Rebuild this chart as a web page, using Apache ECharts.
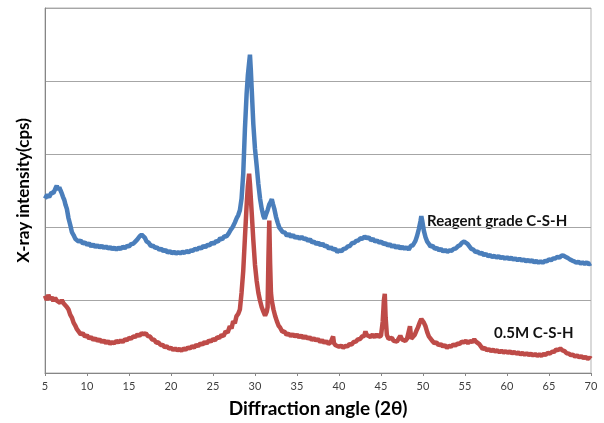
<!DOCTYPE html>
<html>
<head>
<meta charset="utf-8">
<script src="https://cdn.jsdelivr.net/npm/echarts@6/dist/echarts.min.js"></script>
<style>
  html, body { margin: 0; padding: 0; background: #fff; }
  #chart { width: 604px; height: 423px; }
</style>
</head>
<body>
<div id="chart"></div>
<script>
// 2θ tick labels on the x axis
const angleTicks = [5, 10, 15, 20, 25, 30, 35, 40, 45, 50, 55, 60, 65, 70];

// Reagent grade C-S-H (blue trace)
const blueAngle = [
  5.0, 5.25, 5.5, 5.75, 6.0, 6.25, 6.4, 6.55, 6.7, 6.85, 7.0, 7.15, 7.3, 7.45, 7.6, 7.8, 8.0, 8.2, 8.4, 8.6, 8.8,
  9.0, 9.25, 9.5, 9.75, 10.0, 10.25, 10.5, 10.75, 11.0, 11.25, 11.5, 11.75, 12.0, 12.25, 12.5, 12.75, 13.0, 13.25,
  13.5, 13.75, 14.0, 14.25, 14.5, 14.75, 15.0, 15.25, 15.5, 15.75, 16.0, 16.25, 16.5, 16.7, 16.9, 17.1, 17.35, 17.6,
  17.85, 18.1, 18.35, 18.6, 18.85, 19.1, 19.35, 19.6, 19.85, 20.1, 20.35, 20.6, 20.85, 21.1, 21.35, 21.6, 21.85,
  22.1, 22.35, 22.6, 22.85, 23.1, 23.35, 23.6, 23.85, 24.1, 24.35, 24.6, 24.85, 25.1, 25.35, 25.6, 25.85, 26.1,
  26.35, 26.6, 26.85, 27.1, 27.35, 27.6, 27.85, 28.0, 28.2, 28.4, 28.6, 28.8, 29.0, 29.15, 29.3, 29.4, 29.5, 29.6,
  29.8, 30.0, 30.2, 30.4, 30.6, 30.8, 31.0, 31.15, 31.3, 31.5, 31.7, 31.85, 32.0, 32.15, 32.3, 32.5, 32.7, 32.9,
  33.1, 33.3, 33.55, 33.8, 34.05, 34.3, 34.55, 34.8, 35.05, 35.3, 35.55, 35.8, 36.05, 36.3, 36.55, 36.8, 37.05,
  37.3, 37.55, 37.8, 38.05, 38.3, 38.55, 38.8, 39.05, 39.3, 39.55, 39.8, 40.05, 40.3, 40.55, 40.8, 41.05, 41.3,
  41.55, 41.8, 42.05, 42.3, 42.55, 42.8, 43.05, 43.3, 43.55, 43.8, 44.05, 44.3, 44.55, 44.8, 45.05, 45.3, 45.55,
  45.8, 46.05, 46.3, 46.55, 46.8, 47.05, 47.3, 47.55, 47.8, 48.05, 48.3, 48.55, 48.8, 49.1, 49.3, 49.5, 49.7,
  49.8, 49.9, 50.1, 50.3, 50.5, 50.7, 50.9, 51.15, 51.4, 51.65, 51.9, 52.15, 52.4, 52.65, 52.9, 53.15, 53.4,
  53.65, 53.9, 54.15, 54.4, 54.65, 54.9, 55.1, 55.3, 55.5, 55.75, 56.0, 56.25, 56.5, 56.75, 57.0, 57.25, 57.5,
  57.75, 58.0, 58.25, 58.5, 58.75, 59.0, 59.25, 59.5, 59.75, 60.0, 60.25, 60.5, 60.75, 61.0, 61.25, 61.5, 61.75,
  62.0, 62.25, 62.5, 62.75, 63.0, 63.25, 63.5, 63.75, 64.0, 64.25, 64.5, 64.75, 65.0, 65.25, 65.5, 65.75, 66.0,
  66.25, 66.5, 66.75, 67.0, 67.25, 67.5, 67.75, 68.0, 68.25, 68.5, 68.75, 69.0, 69.25, 69.5, 69.75, 70.0
];
const blueCps = [
  2390, 2440, 2410, 2470, 2465, 2530, 2565, 2510, 2545, 2500, 2460, 2410, 2370, 2300, 2250, 2120, 2030, 1930, 1890, 1840, 1845,
  1800, 1815, 1775, 1790, 1755, 1775, 1735, 1760, 1725, 1750, 1720, 1745, 1710, 1735, 1705, 1725, 1695, 1720,
  1690, 1715, 1700, 1730, 1710, 1740, 1735, 1765, 1770, 1800, 1830, 1870, 1895, 1870, 1850, 1800, 1785, 1740,
  1745, 1715, 1720, 1690, 1700, 1670, 1685, 1650, 1670, 1640, 1660, 1635, 1655, 1640, 1660, 1645, 1670,
  1655, 1680, 1675, 1700, 1690, 1720, 1705, 1740, 1725, 1755, 1750, 1785, 1770, 1805, 1800, 1845, 1830,
  1875, 1870, 1910, 1960, 2000, 2060, 2130, 2160, 2230, 2390, 2730, 3340, 3820, 4080, 4250, 4360, 4160, 3910,
  3410, 3070, 2840, 2590, 2390, 2250, 2150, 2110, 2170, 2230, 2310, 2340, 2380, 2310, 2250, 2140, 2060, 1990,
  1960, 1930, 1925, 1880, 1905, 1865, 1890, 1850, 1870, 1840, 1865, 1835, 1845, 1810, 1830, 1790, 1800,
  1765, 1785, 1750, 1770, 1735, 1745, 1700, 1725, 1690, 1700, 1660, 1680, 1670, 1700, 1705, 1735, 1740,
  1780, 1780, 1810, 1815, 1845, 1840, 1870, 1845, 1860, 1820, 1835, 1800, 1815, 1785, 1800, 1765, 1780,
  1745, 1765, 1730, 1750, 1715, 1740, 1705, 1730, 1700, 1725, 1690, 1740, 1750, 1810, 1880, 1970, 2080,
  2150, 2090, 1950, 1860, 1800, 1770, 1730, 1745, 1700, 1715, 1680, 1700, 1665, 1685, 1660, 1680, 1675,
  1700, 1705, 1735, 1750, 1785, 1800, 1810, 1770, 1755, 1700, 1690, 1655, 1665, 1635, 1645, 1615, 1630,
  1600, 1615, 1590, 1605, 1580, 1600, 1575, 1590, 1565, 1585, 1560, 1580, 1555, 1570, 1545, 1565, 1540,
  1555, 1530, 1550, 1525, 1545, 1515, 1535, 1510, 1530, 1510, 1535, 1530, 1555, 1545, 1570, 1570, 1590,
  1580, 1610, 1605, 1590, 1575, 1555, 1540, 1530, 1510, 1525, 1500, 1515, 1495, 1515, 1490, 1505
];

// 0.5M C-S-H (red trace)
const redAngle = [
  5.0, 5.2, 5.4, 5.6, 5.8, 6.0, 6.2, 6.4, 6.6, 6.8, 7.0, 7.2, 7.4, 7.6, 7.8, 8.0, 8.2, 8.4, 8.6, 8.8, 9.0,
  9.25, 9.5, 9.75, 10.0, 10.25, 10.5, 10.75, 11.0, 11.25, 11.5, 11.75, 12.0, 12.25, 12.5, 12.75, 13.0, 13.25,
  13.5, 13.75, 14.0, 14.25, 14.5, 14.75, 15.0, 15.25, 15.5, 15.75, 16.0, 16.25, 16.5, 16.75, 17.0, 17.25, 17.5,
  17.75, 18.0, 18.25, 18.5, 18.75, 19.0, 19.25, 19.5, 19.75, 20.0, 20.25, 20.5, 20.75, 21.0, 21.25, 21.5,
  21.75, 22.0, 22.25, 22.5, 22.75, 23.0, 23.25, 23.5, 23.75, 24.0, 24.25, 24.5, 24.75, 25.0, 25.25, 25.5,
  25.75, 26.0, 26.25, 26.5, 26.75, 27.0, 27.2, 27.4, 27.6, 27.8, 28.0, 28.2, 28.4, 28.6, 28.8, 29.0, 29.15,
  29.3, 29.4, 29.6, 29.8, 30.0, 30.2, 30.4, 30.6, 30.8, 31.0, 31.2, 31.4, 31.5, 31.6, 31.7, 31.8, 31.9, 32.0,
  32.2, 32.4, 32.6, 32.8, 33.0, 33.25, 33.5, 33.75, 34.0, 34.25, 34.5, 34.75, 35.0, 35.25, 35.5, 35.75, 36.0,
  36.25, 36.5, 36.75, 37.0, 37.25, 37.5, 37.75, 38.0, 38.25, 38.5, 38.75, 39.0, 39.2, 39.3, 39.4, 39.6, 39.8,
  40.0, 40.25, 40.5, 40.75, 41.0, 41.25, 41.5, 41.75, 42.0, 42.25, 42.5, 42.75, 43.0, 43.15, 43.3, 43.5,
  43.75, 44.0, 44.25, 44.5, 44.75, 45.0, 45.2, 45.35, 45.45, 45.55, 45.7, 45.9, 46.1, 46.3, 46.5, 46.7, 46.9,
  47.1, 47.3, 47.5, 47.7, 47.9, 48.1, 48.3, 48.45, 48.6, 48.8, 49.0, 49.2, 49.4, 49.6, 49.8, 49.95, 50.1, 50.3,
  50.5, 50.7, 50.9, 51.1, 51.35, 51.6, 51.85, 52.1, 52.35, 52.6, 52.85, 53.1, 53.35, 53.6, 53.85, 54.1, 54.35,
  54.6, 54.85, 55.1, 55.35, 55.6, 55.85, 56.1, 56.3, 56.5, 56.7, 56.9, 57.1, 57.35, 57.6, 57.85, 58.1, 58.35,
  58.6, 58.85, 59.1, 59.35, 59.6, 59.85, 60.1, 60.35, 60.6, 60.85, 61.1, 61.35, 61.6, 61.85, 62.1, 62.35,
  62.6, 62.85, 63.1, 63.35, 63.6, 63.85, 64.1, 64.35, 64.6, 64.85, 65.1, 65.35, 65.6, 65.85, 66.1, 66.35,
  66.6, 66.85, 67.1, 67.35, 67.6, 67.85, 68.1, 68.35, 68.6, 68.85, 69.1, 69.35, 69.6, 69.85, 70.0
];
const redCps = [
  1060, 1000, 1070, 1010, 1040, 985, 1030, 990, 1015, 960, 1000, 955, 965, 905, 870, 800, 760, 690, 650, 600, 585,
  530, 545, 500, 515, 475, 490, 455, 475, 440, 460, 425, 445, 410, 435, 400, 425, 405,
  440, 420, 445, 425, 460, 450, 480, 470, 500, 495, 525, 510, 545, 530, 545, 505, 500,
  460, 455, 415, 420, 385, 385, 355, 365, 335, 345, 315, 335, 310, 330, 305, 335,
  320, 350, 335, 365, 350, 385, 370, 405, 390, 425, 405, 445, 430, 465, 450, 490,
  480, 520, 505, 570, 555, 640, 610, 710, 680, 780, 810, 870, 1100, 1400, 1850, 2290, 2560,
  2730, 2590, 2210, 1820, 1480, 1260, 1100, 990, 900, 840, 785, 840, 900, 1570, 2090, 1500, 1100, 990,
  870, 780, 710, 650, 620, 565, 570, 525, 540, 505, 530, 500, 525, 490, 515, 480, 505,
  470, 490, 455, 475, 445, 465, 425, 450, 415, 435, 400, 420, 400, 500, 410, 380, 395,
  360, 375, 345, 370, 365, 395, 390, 425, 430, 460, 465, 500, 510, 570, 520, 540,
  495, 525, 490, 530, 495, 510, 700, 1000, 1085, 760, 520, 470, 455, 480, 440, 460, 430,
  470, 510, 460, 480, 440, 470, 460, 640, 470, 480, 520, 575, 625, 690, 740, 745, 690, 640,
  560, 500, 470, 440, 410, 420, 380, 395, 365, 380, 345, 370, 360, 390, 375, 405, 395,
  430, 420, 440, 410, 435, 425, 460, 430, 450, 395, 370, 330, 345, 310, 325, 300, 320,
  295, 310, 285, 305, 280, 300, 275, 295, 270, 290, 265, 280, 255, 275, 250, 270,
  245, 265, 240, 260, 235, 255, 235, 260, 250, 275, 265, 290, 290, 320, 315, 335,
  310, 300, 270, 265, 245, 250, 225, 240, 215, 230, 205, 220, 195, 210, 195
];

const seriesNames = ['Reagent grade C-S-H', '0.5M C-S-H'];
const seriesColors = ['#4a7ebb', '#be4b48'];

function zip(xs, ys) {
  return xs.map((x, i) => [x, ys[i]]);
}

const chart = echarts.init(document.getElementById('chart'));
chart.setOption({
  animation: false,
  grid: {
    left: 45, top: 8, width: 546, height: 368,
    show: true,
    borderColor: '#b3b3b3',
    borderWidth: 1
  },
  xAxis: {
    type: 'value',
    min: 5, max: 70, interval: 5,
    name: 'Diffraction angle (2θ)',
    nameLocation: 'middle',
    nameGap: 26,
    nameTextStyle: { fontFamily: 'Lato', fontWeight: 'bold', fontSize: 19, color: '#000' },
    axisLine: { lineStyle: { color: '#868686', width: 1 } },
    axisTick: { show: true, length: 3, lineStyle: { color: '#868686' } },
    axisLabel: {
      fontFamily: 'Lato', fontSize: 11, color: '#404040', margin: 8,
      formatter: v => angleTicks.includes(v) ? String(v) : ''
    },
    splitLine: { show: false }
  },
  yAxis: {
    type: 'value',
    min: 0, max: 5000, interval: 1000,
    name: 'X-ray intensity(cps)',
    nameLocation: 'middle',
    nameRotate: 90,
    nameGap: 13,
    nameTextStyle: { fontFamily: 'Lato', fontWeight: 'bold', fontSize: 17, color: '#000' },
    axisLine: { show: true, lineStyle: { color: '#868686', width: 1 } },
    axisTick: { show: false },
    axisLabel: { show: false },
    splitLine: { lineStyle: { color: '#a6a6a6', width: 1 } }
  },
  graphic: [
    {
      type: 'text', left: 427, top: 214,
      style: { text: seriesNames[0], fontFamily: 'Lato', fontWeight: 'bold', fontSize: 15, fill: '#111' }
    },
    {
      type: 'text', left: 494, top: 326,
      style: { text: seriesNames[1], fontFamily: 'Lato', fontWeight: 'bold', fontSize: 15, fill: '#111' }
    }
  ],
  series: [
    {
      name: seriesNames[0], type: 'line', showSymbol: false,
      data: zip(blueAngle, blueCps),
      lineStyle: { color: seriesColors[0], width: 4.5 },
      z: 3
    },
    {
      name: seriesNames[1], type: 'line', showSymbol: false,
      data: zip(redAngle, redCps),
      lineStyle: { color: seriesColors[1], width: 4.5 },
      z: 2
    }
  ]
});
</script>
</body>
</html>
